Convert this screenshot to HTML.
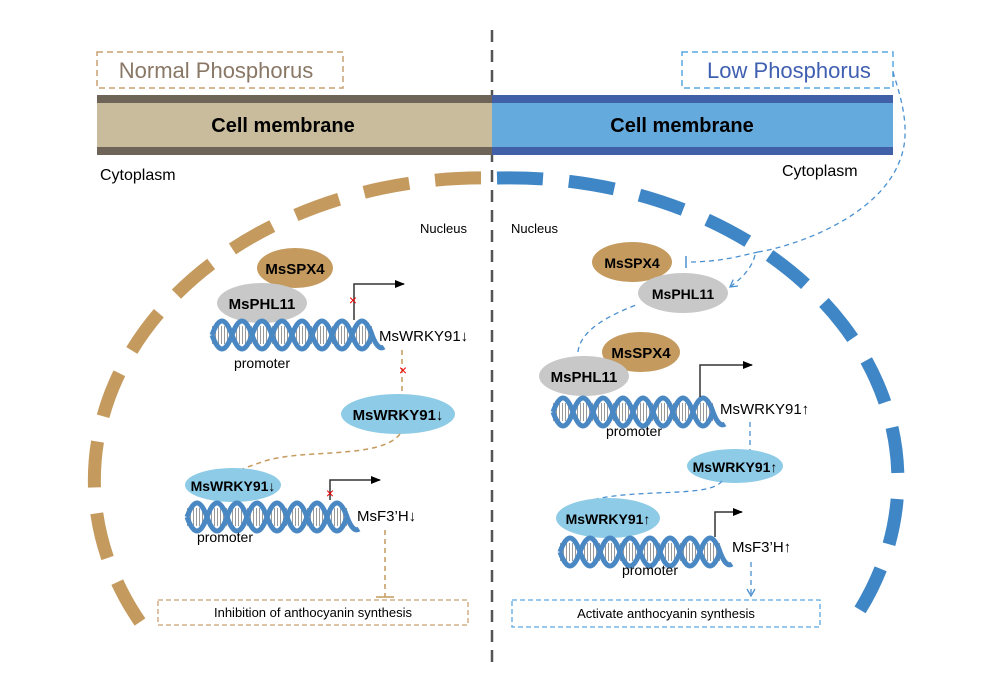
<!DOCTYPE html>
<html><head><meta charset="utf-8"><style>
html,body{margin:0;padding:0;background:#fff}
svg{display:block;font-family:"Liberation Sans",Arial,sans-serif}
</style></head><body>
<svg width="981" height="678" viewBox="0 0 981 678" xmlns="http://www.w3.org/2000/svg">
<defs>
<pattern id="gl" width="3" height="34" patternUnits="userSpaceOnUse"><rect x="0" y="0" width="1" height="34" fill="#999"/></pattern>
<g id="dna">
  <rect x="0" y="8" width="160" height="18" fill="url(#gl)"/>
  <path d="M0,17 q10,-28 20,0 t20,0 t20,0 t20,0 t20,0 t20,0 t20,0 t20,0 q6,16 12,12" fill="none" stroke="#4a88c4" stroke-width="5"/>
  <path d="M0,17 q10,28 20,0 t20,0 t20,0 t20,0 t20,0 t20,0 t20,0 t20,0" fill="none" stroke="#4a88c4" stroke-width="5"/>
</g>
<marker id="ah" markerWidth="10" markerHeight="8" refX="9" refY="4" orient="auto" markerUnits="userSpaceOnUse"><path d="M0,0L10,4L0,8z" fill="#000"/></marker>
<marker id="ob" markerWidth="10" markerHeight="10" refX="8" refY="5" orient="auto" markerUnits="userSpaceOnUse"><path d="M1,1L8,5L1,9" fill="none" stroke="#4a90d0" stroke-width="1.3"/></marker>
</defs>

<line x1="492" y1="30" x2="492" y2="662" stroke="#555" stroke-width="2.5" stroke-dasharray="12,8"/>

<rect x="97" y="52" width="246" height="36" fill="none" stroke="#c8a070" stroke-width="1.5" stroke-dasharray="6,4"/>
<text x="216" y="78" font-size="22" fill="#8a7866" text-anchor="middle">Normal Phosphorus</text>
<rect x="682" y="52" width="211" height="36" fill="none" stroke="#5aa8e0" stroke-width="1.5" stroke-dasharray="6,4"/>
<text x="789" y="78" font-size="22" fill="#3f5fb0" text-anchor="middle">Low Phosphorus</text>

<rect x="97" y="95" width="395" height="60" fill="#c8bc9c"/>
<rect x="97" y="95" width="395" height="8" fill="#6e6458"/>
<rect x="97" y="147" width="395" height="8" fill="#6e6458"/>
<rect x="492" y="95" width="401" height="60" fill="#65aadc"/>
<rect x="492" y="95" width="401" height="8" fill="#4060a8"/>
<rect x="492" y="147" width="401" height="8" fill="#4060a8"/>
<text x="283" y="132" font-size="20" font-weight="bold" text-anchor="middle">Cell membrane</text>
<text x="682" y="132" font-size="20" font-weight="bold" text-anchor="middle">Cell membrane</text>
<text x="100" y="180" font-size="16">Cytoplasm</text>
<text x="782" y="176" font-size="16">Cytoplasm</text>

<path d="M140,622 A388,302 0 0 1 492,178" fill="none" stroke="#c49a5e" stroke-width="13" stroke-dasharray="46,26"/>
<path d="M497,178 A388,302 0 0 1 848,628" fill="none" stroke="#3f86c6" stroke-width="13" stroke-dasharray="46,26"/>
<text x="420" y="233" font-size="13">Nucleus</text>
<text x="511" y="233" font-size="13">Nucleus</text>

<!-- LEFT -->
<ellipse cx="295" cy="268" rx="38" ry="20" fill="#c49a5e"/>
<text x="295" y="274" font-size="15" font-weight="bold" text-anchor="middle">MsSPX4</text>
<ellipse cx="262" cy="303" rx="45" ry="20" fill="#c8c8c8"/>
<text x="262" y="309" font-size="15" font-weight="bold" text-anchor="middle">MsPHL11</text>
<use href="#dna" x="212" y="318"/>
<text x="262" y="368" font-size="14" text-anchor="middle">promoter</text>
<path d="M354,320V284H404" fill="none" stroke="#333" stroke-width="1.5" marker-end="url(#ah)"/>
<text x="353" y="305" font-size="14" fill="#e00" text-anchor="middle">×</text>
<text x="379" y="341" font-size="15">MsWRKY91↓</text>
<line x1="402" y1="350" x2="402" y2="395" stroke="#c49a5e" stroke-width="1.5" stroke-dasharray="5,4"/>
<text x="403" y="375" font-size="14" fill="#e00" text-anchor="middle">×</text>
<ellipse cx="398" cy="414" rx="57" ry="20" fill="#8ecbe6"/>
<text x="398" y="420" font-size="15" font-weight="bold" text-anchor="middle">MsWRKY91↓</text>
<path d="M400,434 C380,460 300,448 262,462 C250,466 245,468 240,470" fill="none" stroke="#c49a5e" stroke-width="1.5" stroke-dasharray="5,4"/>
<ellipse cx="233" cy="485" rx="48" ry="17" fill="#8ecbe6"/>
<text x="233" y="491" font-size="14" font-weight="bold" text-anchor="middle">MsWRKY91↓</text>
<use href="#dna" x="187" y="500"/>
<text x="225" y="542" font-size="14" text-anchor="middle">promoter</text>
<path d="M330,500V480H380" fill="none" stroke="#333" stroke-width="1.5" marker-end="url(#ah)"/>
<text x="330" y="498" font-size="14" fill="#e00" text-anchor="middle">×</text>
<text x="357" y="521" font-size="15">MsF3’H↓</text>
<line x1="385" y1="530" x2="385" y2="597" stroke="#c49a5e" stroke-width="1.5" stroke-dasharray="5,4"/>
<line x1="376" y1="597" x2="394" y2="597" stroke="#c49a5e" stroke-width="1.5"/>
<rect x="158" y="600" width="310" height="25" fill="none" stroke="#c8a070" stroke-width="1.3" stroke-dasharray="5,3"/>
<text x="313" y="617" font-size="13" text-anchor="middle">Inhibition of anthocyanin synthesis</text>

<!-- RIGHT -->
<path d="M893,72 C900,95 912,130 900,160 C880,215 800,245 758,252" fill="none" stroke="#4a90d0" stroke-width="1.3" stroke-dasharray="5,4"/>
<path d="M758,252 C740,256 720,262 688,262" fill="none" stroke="#4a90d0" stroke-width="1.3" stroke-dasharray="5,4"/>
<line x1="686" y1="256" x2="686" y2="268" stroke="#4a90d0" stroke-width="1.5"/>
<path d="M755,255 C752,268 742,278 730,287" fill="none" stroke="#4a90d0" stroke-width="1.3" stroke-dasharray="5,4" marker-end="url(#ob)"/>
<ellipse cx="632" cy="262" rx="40" ry="20" fill="#c49a5e"/>
<text x="632" y="268" font-size="14" font-weight="bold" text-anchor="middle">MsSPX4</text>
<ellipse cx="683" cy="293" rx="45" ry="20" fill="#c8c8c8"/>
<text x="683" y="299" font-size="14" font-weight="bold" text-anchor="middle">MsPHL11</text>
<path d="M578,352 C580,330 610,315 636,305" fill="none" stroke="#4a90d0" stroke-width="1.3" stroke-dasharray="5,4"/>
<ellipse cx="641" cy="352" rx="39" ry="20" fill="#c49a5e"/>
<text x="641" y="358" font-size="15" font-weight="bold" text-anchor="middle">MsSPX4</text>
<ellipse cx="584" cy="376" rx="45" ry="20" fill="#c8c8c8"/>
<text x="584" y="382" font-size="15" font-weight="bold" text-anchor="middle">MsPHL11</text>
<use href="#dna" x="553" y="395"/>
<text x="634" y="436" font-size="14" text-anchor="middle">promoter</text>
<path d="M700,397V365H752" fill="none" stroke="#333" stroke-width="1.5" marker-end="url(#ah)"/>
<text x="720" y="414" font-size="15">MsWRKY91↑</text>
<line x1="750" y1="422" x2="750" y2="450" stroke="#4a90d0" stroke-width="1.3" stroke-dasharray="5,4"/>
<ellipse cx="735" cy="466" rx="48" ry="17" fill="#8ecbe6"/>
<text x="735" y="472" font-size="14" font-weight="bold" text-anchor="middle">MsWRKY91↑</text>
<path d="M722,481 C710,498 640,488 592,500" fill="none" stroke="#4a90d0" stroke-width="1.3" stroke-dasharray="5,4"/>
<ellipse cx="608" cy="518" rx="52" ry="20" fill="#8ecbe6"/>
<text x="608" y="524" font-size="14" font-weight="bold" text-anchor="middle">MsWRKY91↑</text>
<use href="#dna" x="560" y="535"/>
<text x="650" y="575" font-size="14" text-anchor="middle">promoter</text>
<path d="M715,537V512H742" fill="none" stroke="#333" stroke-width="1.5" marker-end="url(#ah)"/>
<text x="732" y="552" font-size="15">MsF3’H↑</text>
<line x1="751" y1="562" x2="751" y2="596" stroke="#4a90d0" stroke-width="1.3" stroke-dasharray="5,4" marker-end="url(#ob)"/>
<rect x="512" y="600" width="308" height="27" fill="none" stroke="#5aa8e0" stroke-width="1.3" stroke-dasharray="5,3"/>
<text x="666" y="618" font-size="13" text-anchor="middle">Activate anthocyanin synthesis</text>
</svg>
</body></html>
